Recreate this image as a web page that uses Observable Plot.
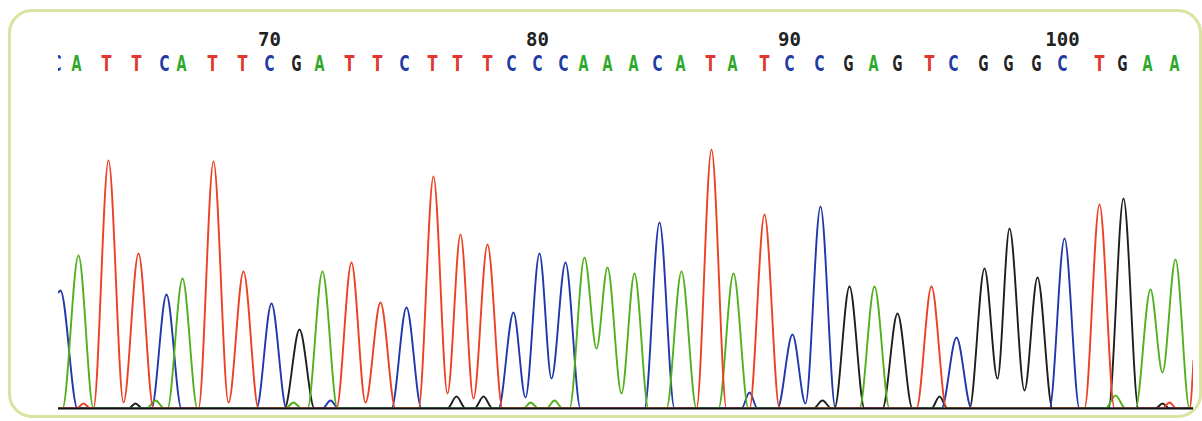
<!DOCTYPE html>
<html><head><meta charset="utf-8">
<script src="https://cdn.jsdelivr.net/npm/d3@7"></script>
<script src="https://cdn.jsdelivr.net/npm/@observablehq/plot@0.6"></script>
<style>
html,body{margin:0;padding:0;background:#fff;}
#wrap{position:relative;width:1202px;height:421px;overflow:hidden;background:#fff;}
#border{position:absolute;left:8px;top:9px;width:1188px;height:403px;border:3px solid #dbe3a0;border-radius:24px;background:#fff;box-sizing:content-box;}
#chart{position:absolute;left:0;top:0;}
</style></head><body>
<div id="wrap"><div id="border"></div><div id="chart"></div></div>
<script>
// Base calls (positions 62..104) and their scan positions
const bases = "CATTCATTCGATTCTTTCCCAAACATATCCGAGTCGGGCTGAA".split("");
const firstPosition = 62;
const basePositions = [-2,18,48,78,106,123,154,184,211,238,261,291,319,346,374,399,429,453,479,505,525,549,575,599,622,652,674,706,731,761,790,815,839,871,895,925,950,978,1004,1041,1064,1089,1116];
const positionLabels = [70, 80, 90, 100];

// Trace points per channel: [scan, intensity]
const traceG = [[0,0],[70,0],[77,5],[84,0],[226,0],[241,79],[256,0],[389,0],[398,12],[407,0],[416,0],[425,12],[434,0],[755,0],[764,8],[773,0],[776,0],[791,122],[806,0],[824,0],[839,95],[854,0],[873,0],[881,12],[889,0],[911,0],[926,140],[939,30],[951,180],[966,18],[979,131],[994,0],[1050,0],[1065,210],[1080,0],[1097,0],[1104,5],[1111,0],[1135,0]];
const traceC = [[0,116],[2,118],[19,0],[93,0],[108,114],[123,0],[198,0],[213,105],[228,0],[264,0],[272,8],[280,0],[333,0],[348,101],[363,0],[440,0],[455,96],[467,11],[481,155],[493,30],[507,146],[522,0],[586,0],[601,186],[616,0],[683,0],[691,16],[699,0],[719,0],[734,74],[747,5],[762,202],[777,0],[883,0],[898,71],[913,0],[991,0],[1006,170],[1021,0],[1135,0]];
const traceA = [[0,0],[4,0],[20,153],[35,0],[88,0],[97,8],[106,0],[109,0],[124,130],[139,0],[227,0],[235,6],[243,0],[249,0],[264,137],[279,0],[465,0],[472,6],[480,0],[488,0],[496,8],[504,0],[511,0],[526,151],[538,60],[549,141],[563,15],[576,135],[590,0],[608,0],[623,137],[638,0],[660,0],[675,135],[690,0],[801,0],[816,122],[831,0],[1047,0],[1057,13],[1067,0],[1077,0],[1092,119],[1104,36],[1117,149],[1131,0],[1135,0]];
const traceT = [[0,0],[18,0],[25,5],[32,0],[35,0],[50,248],[65,6],[80,155],[95,0],[140,0],[155,247],[170,6],[185,137],[200,0],[278,0],[293,146],[307,6],[322,106],[337,0],[360,0],[375,232],[389,15],[402,174],[415,10],[429,164],[444,0],[638,0],[653,259],[668,0],[691,0],[706,194],[721,0],[858,0],[873,122],[888,0],[1026,0],[1041,204],[1056,0],[1104,0],[1111,6],[1118,0],[1131,0],[1135,48]];

const letterColors = {A: "#2fa82c", C: "#1f3ca6", G: "#232323", T: "#e2372e"};
const traceColors = {A: "#52b01e", C: "#2038aa", G: "#1e1e1e", T: "#ec4124"};

const calls = bases.map((b, i) => ({base: b, scan: basePositions[i], position: firstPosition + i}));
const labelled = calls.filter(d => positionLabels.includes(d.position));

const traceMark = (data, ch) => Plot.line(data, {x: d => d[0], y: d => d[1], stroke: traceColors[ch], strokeWidth: 1.9, curve: "monotone-x", clip: true});

const letterMarks = ["A","C","G","T"].map(ch => Plot.text(calls.filter(d => d.base === ch), {
  x: "scan", text: "base", fill: letterColors[ch], frameAnchor: "top", lineAnchor: "middle", dy: 63,
  fontSize: 22, fontWeight: "bold", fontFamily: "'DejaVu Sans', sans-serif", clip: true
}));

const chart = Plot.plot({
  width: 1202, height: 421,
  marginLeft: 58, marginRight: 9, marginTop: 0, marginBottom: 13,
  style: {background: "transparent", overflow: "visible"},
  x: {domain: [0, 1135], axis: null},
  y: {domain: [0, 408], axis: null},
  marks: [
    traceMark(traceG, "G"),
    traceMark(traceC, "C"),
    traceMark(traceA, "A"),
    traceMark(traceT, "T"),
    Plot.ruleY([0], {stroke: "#111", strokeWidth: 2}),
    ...letterMarks,
    Plot.text(labelled, {x: "scan", text: d => String(d.position), fill: "#222", frameAnchor: "top", lineAnchor: "middle", dy: 39,
      fontSize: 19, fontWeight: "bold", fontFamily: "'DejaVu Sans Mono', monospace"})
  ]
});
// narrow the base-call glyphs like the sequencer font
d3.select(chart).selectAll("text")
  .filter(function() { return /^[ACGT]$/.test(this.textContent); })
  .attr("textLength", 10).attr("lengthAdjust", "spacingAndGlyphs");
document.getElementById("chart").appendChild(chart);
</script>
</body></html>
